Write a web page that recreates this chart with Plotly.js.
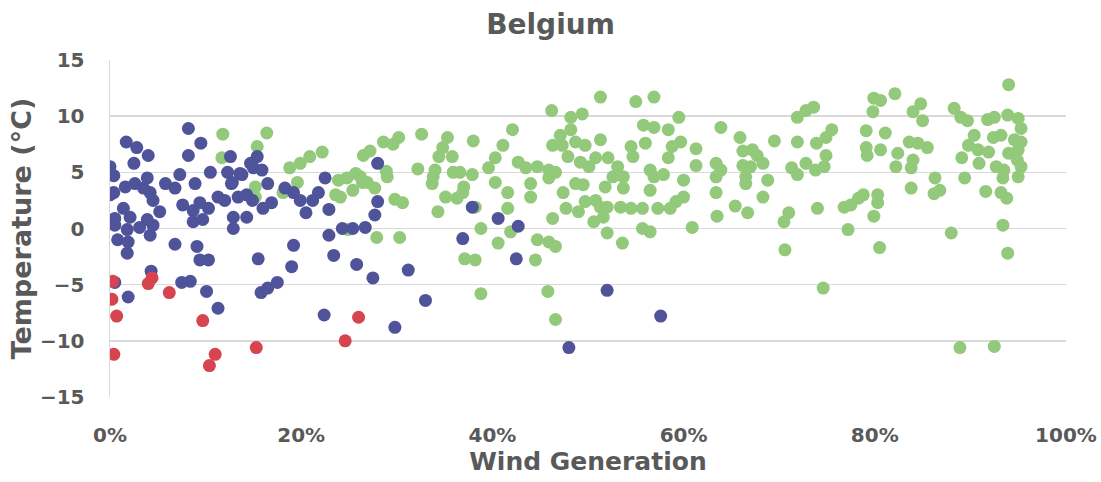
<!DOCTYPE html>
<html>
<head>
<meta charset="utf-8">
<script src="https://cdn.plot.ly/plotly-3.0.1.min.js"></script>
<style>html,body{margin:0;padding:0;background:#fff}#chart{width:1101px;height:482px}</style>
</head>
<body>
<div id="chart"></div>
<script>
// Wind generation (%) and temperature (°C)
const greenWind = [11.8,11.7,15.4,16.4,15.2,15.2,18.8,19.9,20.9,22.2,19.6,18.1,23.9,24.8,25.7,26.2,26.4,25.4,26.9,27.7,23.6,24.1,24.9,26.5,27.2,
28.6,29.6,30.2,32.6,35.3,34.8,34.4,35.8,32.2,34.0,33.8,33.7,35.9,36.6,37.0,36.9,35.1,36.3,34.3,28.9,29.0,29.8,30.6,27.9,30.3,37.1,38.2,38.0,38.2,38.8,38.8,
51.3,55.0,56.9,46.2,48.2,49.4,42.1,41.1,47.1,48.2,46.3,47.3,47.9,48.7,49.7,49.2,50.1,50.8,51.3,52.1,53.1,52.6,53.7,51.8,53.7,54.5,54.7,56.0,55.8,56.9,56.5,56.9,56.5,
40.3,39.6,37.9,42.7,43.5,44.7,45.9,46.6,45.9,40.3,44.0,44.0,41.6,41.6,47.4,48.7,49.5,47.7,49.0,49.7,50.8,51.3,52.0,53.4,54.5,55.7,50.6,51.6,57.3,55.7,56.5,52.0,53.6,
46.3,40.6,41.9,44.7,45.9,46.6,44.5,45.8,46.6,
59.5,58.4,63.9,59.7,58.8,58.4,61.3,61.3,57.9,60.0,63.4,63.9,63.4,65.9,66.2,67.2,67.7,68.3,66.2,67.0,66.5,66.5,68.8,68.3,63.4,60.0,59.2,58.6,63.5,65.4,66.7,60.9,
69.5,71.9,72.8,73.6,71.9,73.9,74.9,75.5,74.9,71.3,71.9,72.8,73.8,74.7,74.0,76.8,77.2,70.5,71.0,70.6,74.6,
79.9,80.6,79.8,82.1,84.0,84.8,85.0,88.3,89.0,89.7,79.1,81.1,79.1,79.2,80.6,82.4,82.2,83.6,84.5,85.5,84.0,83.8,86.3,86.8,86.2,83.8,77.5,78.3,78.8,80.3,80.3,79.9,80.5,88.0,
89.1,89.4,91.6,90.4,89.8,90.8,91.9,90.9,91.8,92.5,93.9,95.0,95.3,92.4,93.2,94.6,95.3,94.0,95.0,94.9,95.3,92.7,93.5,93.4,95.0,93.2,93.8,93.4,93.9,94.0,88.9,92.5];
const greenTemp = [8.4,6.3,7.3,8.5,3.7,2.8,5.4,5.8,6.4,6.8,4.1,3.2,4.3,4.5,4.9,4.6,4.1,3.4,4.1,3.6,3.0,2.8,-0.1,6.5,6.9,
7.7,7.5,8.1,8.4,8.1,7.2,6.4,6.4,5.3,5.2,4.6,4.0,5.0,5.0,3.7,3.2,2.8,2.7,1.5,5.1,4.6,2.6,2.3,-0.8,-0.8,-2.7,-2.8,7.8,1.9,0.0,-5.8,
11.7,11.3,11.7,10.5,9.9,10.2,8.8,7.4,8.3,8.8,7.4,7.4,6.4,7.7,7.4,5.9,5.5,6.3,7.9,6.3,5.5,4.6,4.6,3.7,3.6,7.3,6.4,7.6,9.2,9.0,5.2,4.6,3.4,
6.3,5.4,4.8,5.9,5.4,5.5,5.2,5.0,4.5,4.1,4.0,2.8,3.2,1.8,3.2,4.0,3.9,1.8,1.5,2.4,2.5,1.9,1.9,1.9,1.8,1.8,0.6,1.0,1.8,0.0,-0.3,-0.4,-1.3,
0.9,-1.3,-0.3,-1.0,-1.2,-1.6,-2.8,-5.6,-8.1,
9.9,8.8,9.0,7.7,7.3,6.3,7.1,5.6,4.8,4.3,5.8,5.2,4.6,8.1,6.9,7.0,6.5,5.8,5.6,5.5,4.6,4.0,4.3,2.8,3.2,2.8,2.4,1.8,1.1,2.0,1.4,0.1,
7.8,9.9,10.5,10.8,7.7,7.6,8.1,8.8,6.5,5.4,4.8,5.8,5.2,5.5,1.8,1.9,-0.1,0.6,1.4,-1.9,-5.3,
11.6,11.4,10.4,12.0,10.4,11.1,9.6,10.7,9.9,9.6,8.7,8.5,7.2,6.5,7.0,6.7,5.5,7.7,7.6,7.2,6.1,5.4,4.5,3.4,3.1,3.6,2.1,2.7,3.0,3.0,2.3,1.1,-1.7,-0.4,
6.3,4.5,3.3,8.3,7.4,7.0,6.8,5.8,9.7,9.9,10.1,9.8,8.9,8.1,8.3,7.9,7.7,6.7,7.0,6.1,5.5,5.5,5.2,4.5,4.6,3.2,2.7,0.3,-2.2,12.8,-10.6,-10.5];

const blueWind = [0.0,0.4,1.7,2.8,4.0,2.5,0.0,0.4,1.6,2.6,3.5,3.9,4.2,4.5,1.4,0.5,2.1,3.9,0.5,1.8,3.1,4.5,5.2,0.8,1.9,4.2,1.8,
5.8,7.3,6.8,8.2,8.2,9.5,8.9,7.6,8.7,9.4,10.3,10.5,11.3,12.0,12.3,12.6,12.7,13.6,14.7,15.4,15.0,15.9,16.5,13.8,12.8,13.4,14.3,14.9,16.0,16.9,
8.7,9.7,12.9,14.3,12.9,6.8,9.1,9.4,10.3,4.3,0.5,1.9,7.5,8.4,10.1,11.3,15.5,15.8,16.5,17.5,19.2,19.0,
18.3,19.2,19.9,20.5,21.2,21.8,22.5,22.9,22.4,22.9,24.3,25.4,26.7,23.4,25.8,27.5,28.0,28.0,27.7,31.2,29.8,33.0,36.9,37.9,40.6,42.7,42.5,48.0,52.0,57.6];
const blueTemp = [5.5,4.7,7.7,7.2,6.5,5.8,3.0,3.2,3.7,4.0,3.6,4.5,3.2,2.5,1.8,0.9,1.0,0.8,0.3,-0.1,0.1,0.3,1.5,-1.0,-1.2,-0.6,-2.2,
4.0,4.8,3.6,8.9,6.5,7.6,4.0,2.1,1.6,2.3,1.8,5.0,2.8,2.5,5.0,6.4,4.0,4.9,5.8,6.4,5.4,5.2,4.0,4.8,4.1,2.8,3.0,2.5,1.8,2.3,
0.6,0.8,1.0,1.0,0.0,-1.4,-1.6,-2.8,-2.8,-3.8,-4.8,-6.1,-4.8,-4.7,-5.6,-7.1,-2.7,-5.7,-5.3,-4.8,-1.5,-3.4,
3.6,3.2,2.5,1.4,2.5,3.2,4.5,1.7,-7.7,-0.6,0.0,0.0,0.1,-2.4,-3.2,-4.4,5.8,2.4,1.2,-3.7,-8.8,-6.4,-0.9,1.9,0.9,0.2,-2.7,-10.6,-5.5,-7.8];

const redWind = [0.3,0.2,0.7,0.4,4.0,4.4,6.2,9.7,11.0,10.4,15.3,24.6,26.0];
const redTemp = [-4.7,-6.3,-7.8,-11.2,-4.9,-4.4,-5.7,-8.2,-11.2,-12.2,-10.6,-10.0,-7.9];

const GREY = '#595959';
const FONT = '"DejaVu Sans", Lato, sans-serif';
function series(x, y, color, name) {
  return {x: x, y: y, type: 'scatter', mode: 'markers', name: name,
    marker: {color: color, size: 13, line: {width: 0}}, hoverinfo: 'x+y'};
}
const data = [
  series(greenWind, greenTemp, '#93C97B', 'Group 3'),
  series(blueWind, blueTemp, '#4F5399', 'Group 2'),
  series(redWind, redTemp, '#D6444F', 'Group 1')
];
const layout = {
  width: 1101, height: 482,
  margin: {l: 110, r: 35, t: 60, b: 85},
  paper_bgcolor: '#fff', plot_bgcolor: '#fff',
  showlegend: false,
  font: {family: FONT, color: GREY},
  title: {text: '<b>Belgium</b>', x: 0.5, xanchor: 'center', y: 0.95, yanchor: 'middle',
    font: {family: FONT, size: 28, color: GREY}},
  xaxis: {range: [0, 100], dtick: 20, ticksuffix: '%', showgrid: false, zeroline: false,
    showline: false, ticks: '', ticklabelstandoff: 24,
    tickfont: {family: FONT, size: 20, color: GREY, weight: 'bold'},
    title: {text: '<b>Wind Generation</b>', standoff: 6, font: {family: FONT, size: 25, color: GREY}}},
  yaxis: {range: [-15, 15], dtick: 5, showgrid: true, gridcolor: '#D9D9D9', gridwidth: 1.5,
    zeroline: false, showline: true, linecolor: '#D9D9D9', linewidth: 1.5, ticks: '',
    ticklabelstandoff: 20,
    tickfont: {family: FONT, size: 20, color: GREY, weight: 'bold'},
    title: {text: '<b>Temperature (°C)</b>', standoff: 0, font: {family: FONT, size: 27, color: GREY}}}
};
Plotly.newPlot('chart', data, layout, {displayModeBar: false, staticPlot: true});
</script>
</body>
</html>
